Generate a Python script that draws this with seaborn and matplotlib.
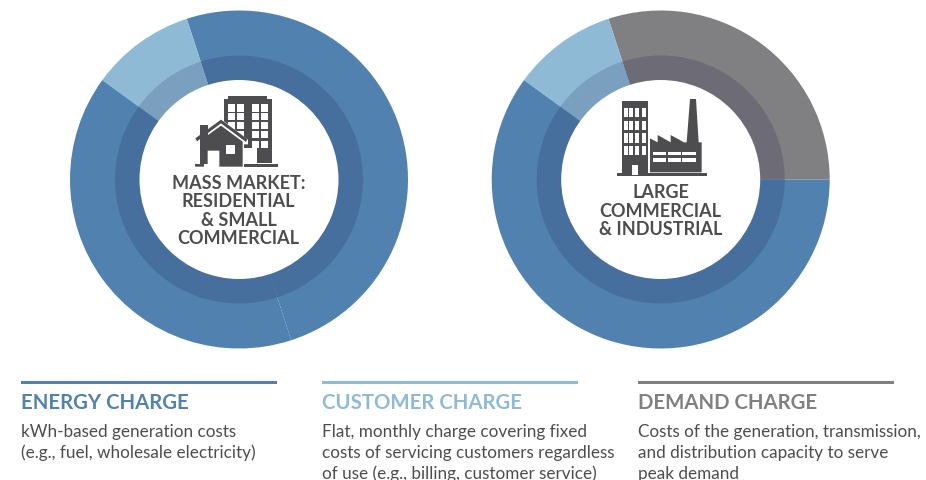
import seaborn as sns
import matplotlib.pyplot as plt
from matplotlib.patches import Polygon, Rectangle

# Share of each charge in the bill (percent)
mass_labels = ['Energy', 'Customer', 'Energy']
mass_shares = [50, 10, 40]
large_labels = ['Demand', 'Customer', 'Energy']
large_shares = [30, 10, 60]

headers = ['ENERGY CHARGE', 'CUSTOMER CHARGE', 'DEMAND CHARGE']
descriptions = [
    ['kWh-based generation costs', '(e.g., fuel, wholesale electricity)'],
    ['Flat, monthly charge covering fixed', 'costs of servicing customers regardless', 'of use (e.g., billing, customer service)'],
    ['Costs of the generation, transmission,', 'and distribution capacity to serve', 'peak demand'],
]
mass_title = ['MASS MARKET:', 'RESIDENTIAL', '& SMALL', 'COMMERCIAL']
large_title = ['LARGE', 'COMMERCIAL', '& INDUSTRIAL']

outer_colors = {'Energy': '#5182af', 'Customer': '#8fbad6', 'Demand': '#807f82'}
inner_colors = {'Energy': '#466f9e', 'Customer': '#7a9fbf', 'Demand': '#6d6b76'}
dark = '#4d4d4f'

sns.set_theme(style='white')
plt.rcParams['font.family'] = ['Lato', 'DejaVu Sans']

W, H = 926, 481
fig = plt.figure(figsize=(W / 100, H / 100), dpi=100, facecolor='white')


def donut(cx, cy, labels, shares, start):
    r = 170
    ax = fig.add_axes([(cx - r) / W, 1 - (cy + r) / H, 2 * r / W, 2 * r / H])
    kw = dict(startangle=start, counterclock=True, wedgeprops=dict(linewidth=0))
    ax.pie(shares, colors=[outer_colors[c] for c in labels], radius=169, **kw)
    ax.pie(shares, colors=[inner_colors[c] for c in labels], radius=124, **kw)
    ax.pie([1], colors=['white'], radius=99.5, wedgeprops=dict(linewidth=0))
    ax.set_xlim(-r, r)
    ax.set_ylim(-r, r)
    ax.axis('off')


donut(239, 180.5, mass_labels, mass_shares, -72)
donut(660.7, 180.5, large_labels, large_shares, 0)

# overlay in pixel coordinates for the icons and the text
ov = fig.add_axes([0, 0, 1, 1])
ov.set_xlim(0, W)
ov.set_ylim(H, 0)
ov.axis('off')
ov.patch.set_alpha(0)


def shape(pts, off, color=dark, z=3):
    ov.add_patch(Polygon([(off + x / 3, y / 3) for x, y in pts], closed=True, fc=color, ec='none', zorder=z))


def box(x0, y0, x1, y1, off, color=dark, z=3):
    shape([(x0, y0), (x1, y0), (x1, y1), (x0, y1)], off, color, z)


# building and house icon
off = 60
shape([(492, 300), (505, 300), (505, 292), (622, 292), (622, 300), (635, 300), (635, 492), (592, 492), (592, 447),
       (552, 447), (552, 460), (492, 460)], off)
for x0, x1 in [(504, 526), (530, 552), (576, 598), (602, 624)]:
    for y0, y1 in [(316, 338), (343, 363), (369, 390), (395, 416), (426, 447)]:
        box(x0, y0, x1, y1, off, 'white')
box(548, 495, 654, 503, off)
shape([(404, 422), (483, 360), (564, 422), (564, 436), (552, 436), (552, 505), (405, 505), (405, 436)], off, 'white', 4)
shape([(420, 428), (420, 378), (444, 378), (444, 408), (483, 380), (548, 428), (548, 503), (478, 503), (478, 455),
       (443, 455), (443, 495), (432, 495), (432, 503), (405, 503), (405, 495), (420, 495)], off, dark, 5)
shape([(406, 418), (483, 362), (562, 420), (558, 429), (483, 373), (411, 427)], off, dark, 5)
box(498, 438, 524, 464, off, 'white', 6)

# office and factory icon
off = 480
box(425, 305, 505, 522, off)
for x0, x1 in [(432, 443), (448, 460), (466, 478), (485, 497)]:
    for y0, y1 in [(327, 355), (365, 393), (403, 431), (441, 469)]:
        box(x0, y0, x1, y1, off, 'white')
box(411, 522, 680, 531, off)
box(457, 497, 473, 528, off, 'white', 4)
shape([(510, 520), (510, 418), (533, 430), (533, 408), (572, 430), (572, 408), (612, 430), (620, 430), (630, 300),
       (648, 300), (656, 430), (665, 430), (665, 520)], off)
for x0, x1 in [(520, 558), (563, 602), (607, 648)]:
    for y0, y1 in [(458, 467), (476, 488)]:
        box(x0, y0, x1, y1, off, 'white')

# titles inside the rings
for i, line in enumerate(mass_title):
    ov.text(238.5, 189 + i * 18.3, line, ha='center', va='baseline', fontsize=13, fontweight='bold', color=dark)
for i, line in enumerate(large_title):
    ov.text(660.5, 198.5 + i * 18.3, line, ha='center', va='baseline', fontsize=13, fontweight='bold', color=dark)

# legend columns
col_x = [21, 322, 638]
col_colors = [outer_colors['Energy'], outer_colors['Customer'], outer_colors['Demand']]
for x, head, lines, c in zip(col_x, headers, descriptions, col_colors):
    ov.add_patch(Rectangle((x, 381.8), 256, 3, fc=c, ec='none'))
    ov.text(x, 408.7, head, ha='left', va='baseline', fontsize=14.7, fontweight='bold', color=c)
    for i, line in enumerate(lines):
        ov.text(x, 437 + i * 20.8, line, ha='left', va='baseline', fontsize=12.3, color=dark)

fig.savefig('out.png', dpi=100)
